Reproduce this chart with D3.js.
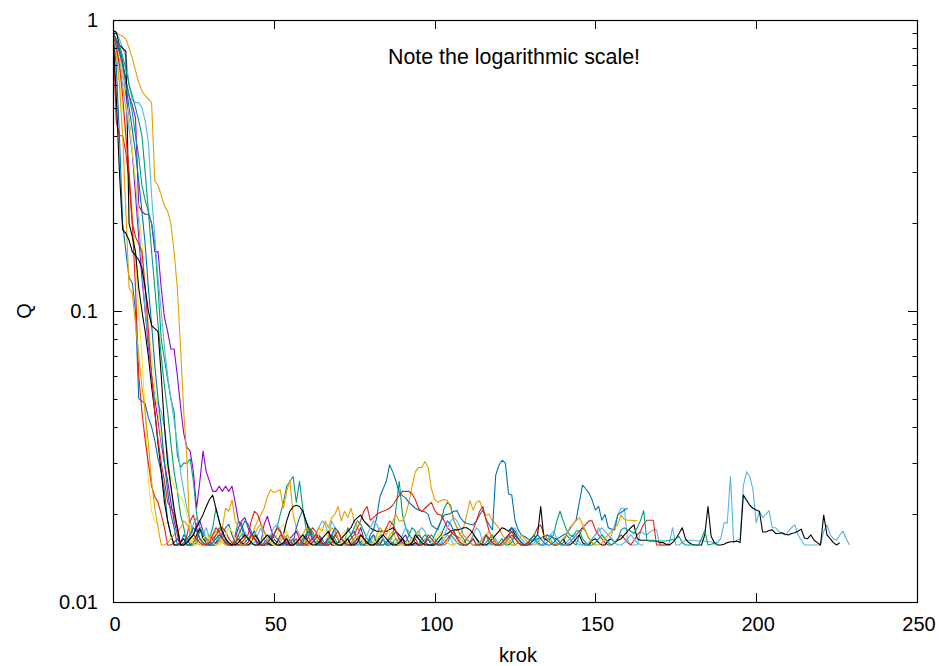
<!DOCTYPE html>
<html>
<head>
<meta charset="utf-8">
<script src="https://cdn.jsdelivr.net/npm/d3@7"></script>
<style>
  body { margin: 0; background: #fff; }
  svg { display: block; font-family: "Liberation Sans", Arial, sans-serif; }
</style>
</head>
<body>
<div id="chart"></div>
<script>
// Q per krok, one array per run (index = krok)
const purpleA = [.90,.86,.80,.72,.62,.55,.51,.46,.23,.22,
  .215,.215,.20,.16,.16,.12,.095,.085,.074,.074,
  .060,.047,.038,.034,.033,.028,.021,.026,.033,.028,
  .026,.024,.024,.025,.024,.025,.024,.025,.022,.019,
  .0185,.017,.0165,.016,.0157,.0157,.016,.0185,.0197,.018,
  .0165,.016,.0157,.0157,.017,.0165,.0157,.016,.0157,.0157,
  .0165,.018,.017,.0157,.0157,.016,.0157,.017,.0165,.0157,
  .0157,.0157,.016,.0165,.0157,.0157,.017,.018,.0165,.0157,
  .0157,.016,.0157,.0157,.0165,.0157,.0157,.016,.0157,.0157,
  .0165,.017,.016,.0157,.0157,.0157];

const greenA = [.88,.84,.78,.70,.62,.55,.48,.40,.34,.27,
  .24,.22,.20,.17,.12,.080,.068,.058,.050,.045,
  .032,.029,.030,.030,.031,.026,.020,.018,.017,.016,
  .0165,.018,.021,.019,.017,.0165,.016,.0157,.017,.019,
  .018,.0165,.0157,.016,.017,.0165,.0157,.0157,.016,.017,
  .017,.018,.020,.022,.025,.026,.027,.022,.026,.021,
  .018,.0165,.0157,.016,.017,.0165,.0157,.0157,.016,.017,
  .0165,.0157,.016,.018,.017,.0157,.0157,.016,.0165,.0157,
  .0165,.0157,.016,.017,.0165,.0157,.016,.017,.021,.026,
  .020,.018,.017,.0165,.016,.0157,.0165,.017,.0165,.016,
  .017,.018,.019,.021,.022,.0215,.019,.018,.017,.0165,
  .0157,.016,.017,.0165,.0157,.0157,.016,.0165,.017,.016,
  .0157,.0157,.016,.017,.0165,.0157,.016,.0157,.0157,.016,
  .0165,.017,.016,.0157,.0157,.016,.017,.0165,.016,.0157,
  .016,.017,.0165,.016,.0157,.017,.018,.0175,.0165,.016,
  .0157];

const lightblueA = [.92,.90,.86,.80,.75,.60,.53,.52,.52,.50,
  .45,.38,.25,.18,.13,.10,.075,.060,.050,.042,
  .035,.028,.024,.021,.019,.017,.0165,.016,.017,.018,
  .0165,.0157,.016,.017,.0165,.0157,.0157,.016,.0157,.0165,
  .017,.0165,.0157,.0157,.016,.017,.018,.0165,.0157,.0157,
  .016,.0157,.0165,.017,.016,.0157,.0157,.0157,.016,.0165,
  .0157,.0157,.016,.017,.018,.019,.0185,.017,.019,.018,
  .0165,.0157,.016,.0157,.0157,.0165,.017,.016,.0157,.0157,
  .016,.017,.0165,.0157,.0157,.016,.0165,.0157,.0157,.016,
  .017,.018,.0175,.016,.0157,.0157,.016,.0165,.0157,.0157,
  .016,.0157,.0157,.0165,.017,.0165,.0157,.016,.0157,.0157,
  .0157,.016,.017,.018,.0175,.016,.0157,.0157,.016,.0165,
  .0157,.0157,.016,.0157,.0165,.017,.016,.0157,.0157,.0157,
  .016,.0165,.0157,.0157,.016,.017,.0165,.0157,.016,.0157,
  .0157,.016,.0165,.017,.016,.0157,.0157,.016,.0157,.0165,
  .017,.018,.017,.0165,.016,.017,.0185,.0199,.021,.021,
  .0163,.0157,.0157,.0157,.0174,.0172,.0170,.0174,.0177,.0177,
  .0157,.0157,.0157,.0160,.018,.0157,.0157,.0160,.0163,.0163,
  .0163,.0163,.0162,.0162,.0162,.0161,.0161,.0160,.0160,.0165,
  .0187,.0187,.027,.016,.0163,.0165,.025,.028,.027,.0243,
  .0187,.0205,.0195,.020,.0206,.018,.018,.0175,.0172,.017,
  .0175,.018,.0184,.017,.0163,.0157,.0157,.0157,.0157,.0157,
  .0157,.0175,.0184,.0170,.0165,.0163,.0170,.0175,.0165,.0157];

const orangeA = [.90,.90,.89,.88,.86,.80,.74,.67,.61,.57,
  .55,.535,.52,.28,.27,.25,.23,.22,.20,.16,
  .12,.075,.045,.031,.0157,.0157,.016,.0165,.0157,.016,
  .017,.0165,.0157,.016,.018,.021,.0205,.0224,.019,.018,
  .017,.0165,.0157,.016,.018,.019,.020,.021,.023,.0243,
  .0238,.024,.0243,.021,.024,.0262,.020,.018,.017,.0165,
  .016,.0157,.0165,.017,.018,.0175,.019,.018,.0195,.020,
  .0213,.019,.0205,.0195,.021,.019,.018,.017,.0165,.016,
  .0157,.016,.017,.018,.0175,.017,.018,.019,.020,.019,
  .019,.020,.022,.025,.028,.029,.029,.0304,.029,.0245,
  .0225,.022,.0223,.0225,.0223,.021,.019,.018,.017,.018,
  .020,.0223,.0207,.022,.0223,.0205,.0199,.020,.0190,.0185,
  .018,.017,.0165,.016,.0157,.0157];

const yellowA = [.85,.75,.62,.50,.40,.30,.22,.15,.10,.070,
  .045,.026,.0205,.019,.0184,.0184,.0186,.0187,.0187,.0187,
  .018,.0157,.0157,.016,.0165,.0157,.0157,.016,.017,.0165,
  .0157,.0157,.016,.0157,.0165,.017,.018,.0175,.016,.0157,
  .0157,.0165,.0157,.016,.017,.0165,.0157,.0157,.016,.0157,
  .0165,.017,.018,.0185,.017,.016,.0157,.0157,.016,.0165,
  .0157,.0157,.0165,.017,.016,.0157,.0157,.016,.0157,.0157,
  .0165,.017,.0175,.0165,.0157,.0157,.016,.0157,.0165,.016,
  .0157];

const blueA = [.90,.70,.40,.20,.16,.13,.125,.10,.050,.049,
  .048,.043,.040,.036,.031,.028,.024,.019,.017,.0157,
  .0157,.016,.017,.0165,.0157,.0157,.016,.018,.017,.0165,
  .016,.0157,.0157,.0165,.017,.018,.0185,.017,.016,.0157,
  .0157,.016,.0165,.017,.0175,.0165,.016,.0157,.0157,.016,
  .017,.018,.0175,.0165,.0157,.0157,.016,.018,.0195,.0207,
  .019,.018,.017,.0165,.016,.0157,.0157,.0165,.017,.016,
  .0157,.0157,.016,.0165,.017,.0175,.0165,.016,.0157,.0157,
  .0170,.0177,.0195,.0230,.0245,.0260,.0296,.0280,.0260,.0237,
  .0232,.0228,.0220,.0215,.0210,.0207,.0205,.0204,.0200,.0184,
  .0180,.0177,.0190,.0199,.0200,.0202,.0205,.0206,.0195,.0189,
  .0186,.0185,.0184,.0190,.0199,.0207,.0193,.0184,.0177,.0273,
  .0295,.0307,.0300,.0235,.0233,.0191,.0177,.0170,.0168,.0165,
  .0163,.0163,.0165,.0166,.0168,.0170,.0168,.0166,.0165,.0167,
  .0170,.0172,.0178,.0185,.0191,.0220,.0252,.0245,.0237,.0224,
  .0207,.0213,.0191,.0200,.0180,.0178,.0177,.0200,.0203,.0207,
  .0210];

const redA = [.90,.45,.40,.40,.35,.28,.20,.12,.060,.045,
  .036,.030,.025,.023,.022,.020,.018,.0157,.0157,.016,
  .0165,.0157,.0157,.017,.019,.0199,.018,.0165,.016,.0157,
  .0157,.0165,.017,.0175,.018,.0175,.0165,.016,.0157,.0157,
  .016,.0165,.017,.019,.0205,.020,.0185,.0175,.0165,.0157,
  .0157,.016,.017,.0165,.0157,.0157,.016,.0165,.0157,.0157,
  .016,.017,.018,.0175,.0165,.0157,.0157,.016,.0165,.017,
  .0165,.0157,.0157,.016,.0165,.017,.018,.019,.0205,.0213,
  .0191,.0195,.020,.0203,.0205,.0207,.021,.0215,.0224,.0232,
  .0240,.0240,.0240,.0235,.0225,.021,.0205,.021,.0215,.022,
  .0207,.020,.0199,.019,.018,.0175,.017,.0168,.0165,.016,
  .0165,.017,.0177,.019,.0205,.0213,.0191,.0175,.0165,.016,
  .0157,.0157,.016,.0165,.017,.0165,.016,.0157,.0157,.016,
  .0165,.017,.018,.0184,.017,.0165,.016,.0157,.0157,.016,
  .0157,.0157,.016,.0165,.017,.0175,.018,.0185,.019,.019,
  .0177,.017,.0165,.016,.0157,.0157,.016,.0165,.017,.0165,
  .016,.0157,.0163,.0170,.0175,.0185,.0191,.0191,.0191,.0157,
  .0157,.0157,.0157,.0157];

const blackA = [.92,.91,.82,.80,.78,.20,.18,.16,.12,.10,
  .085,.07,.055,.045,.035,.028,.022,.019,.017,.0157,
  .0157,.016,.0165,.0157,.0157,.016,.017,.018,.0165,.016,
  .0157,.0157,.016,.0165,.017,.016,.0157,.0157,.016,.0165,
  .016,.0157,.0157,.016,.017,.0165,.0157,.0157,.016,.0157,
  .0157,.016,.0165,.017,.019,.0205,.0213,.0215,.0213,.0205,
  .019,.0175,.0165,.016,.0157,.0157,.016,.0165,.0157,.0157,
  .016,.0165,.017,.0175,.018,.019,.0195,.0199,.019,.0185,
  .018,.0177,.0175,.0175,.0175,.0175,.0177,.018,.0175,.017,
  .0165,.016,.0157,.0157,.016,.0157,.0157,.016,.0165,.0157,
  .0157,.016,.0165,.017,.0172,.0175,.0177,.0177,.0178,.018,
  .018,.0177,.0172,.0165,.016,.0157,.0157,.016,.0165,.017,
  .0175,.018,.0178,.0175,.018,.017,.0165,.016,.0157,.0157,
  .016,.0165,.017,.0213,.0165,.0163,.016,.0157,.0157,.016,
  .0165,.0157,.0157,.016,.0165,.017,.016,.0157,.0157,.0163,
  .0165,.016,.0157,.0157,.0163,.0165,.016,.0163,.0165,.017,
  .0175,.018,.0184,.0165,.0163,.0163,.0163,.0162,.0162,.0162,
  .016,.016,.0158,.0157,.016,.0165,.0172,.018,.0165,.016,
  .0158,.0157,.0157,.0157,.0170,.0213,.0168,.0160,.0157,.0157,
  .0158,.0160,.0161,.0161,.0162,.0160,.0233,.0224,.0215,.021,
  .0207,.0205,.0174,.0174,.0176,.0177,.0172,.0172,.0173,.0171,
  .0170,.0172,.0173,.0175,.0178,.0166,.0165,.0170,.0163,.0160,
  .0157,.0199,.0170,.0165,.0160,.0157,.0160];

const purpleB = [.90,.85,.75,.65,.55,.45,.35,.25,.18,.13,
  .10,.075,.060,.050,.042,.035,.030,.026,.022,.019,
  .017,.0157,.0157,.016,.0165,.017,.0185,.019,.0175,.0165,
  .016,.0157,.0157,.0165,.017,.016,.0157,.0157,.0165,.018,
  .019,.0195,.018,.017,.0165,.0157,.0157,.016,.0165,.017,
  .016,.0157,.0157,.016,.0157,.0165,.017,.0175,.0165,.016,
  .0157,.0157,.016,.0165,.017,.016,.0157,.0157,.016,.0157,
  .0157];

const greenB = [.90,.86,.82,.75,.68,.60,.55,.50,.45,.40,
  .30,.22,.16,.12,.090,.070,.055,.045,.035,.028,
  .024,.020,.018,.0157,.0157,.016,.0165,.0175,.017,.016,
  .0157,.016,.017,.018,.0175,.0165,.0157,.0157,.016,.0165,
  .0157,.0157,.016,.017,.0165,.016,.0157,.0157,.0165,.017,
  .016,.0157,.0157,.016,.0165,.0157,.0157,.016,.0157,.0165,
  .017,.018,.0175,.0165,.016,.0157,.0157,.016,.017,.0165,
  .0157,.0157,.016,.0165,.017,.018,.019,.0185,.0175,.0165,
  .016,.0157,.0157,.016,.0165,.0157,.0157,.016,.0165,.0157,
  .0157,.016,.017,.018,.0175,.0165,.0157,.016,.0165,.017,
  .0165,.016,.0157,.0157,.016,.017,.0165,.016,.0157,.0157,
  .0165,.016,.0157,.0157,.016,.0165,.017,.016,.0157,.0157,
  .016,.0165,.0157,.0157,.016,.017,.0165,.016,.0157,.0157,
  .0165,.017,.016,.0157,.0157,.016,.0165,.017,.019,.0205,
  .019,.0177,.017,.0168,.0175,.0176,.0165,.016,.0157,.0157,
  .016,.0165,.017,.0165,.016,.0157,.016,.0165,.0177,.018,
  .0177,.0175,.0172,.0180,.019,.0206,.0163,.0163,.0163,.0162,
  .0162,.0162,.0162,.0163,.0164,.0165,.0168,.0160,.0157,.0157,
  .0157,.0157,.0157,.0165,.0176,.0157,.0158,.0159,.0157];

const lightblueB = [.88,.80,.70,.60,.50,.42,.35,.28,.20,.14,
  .10,.080,.060,.050,.048,.045,.040,.032,.025,.020,
  .018,.0157,.0157,.016,.017,.0185,.0195,.018,.0175,.0165,
  .016,.0157,.0157,.0165,.017,.016,.0157,.0157,.016,.0165,
  .017,.0175,.0165,.016,.0157,.0157,.016,.0157,.0165,.017,
  .018,.0185,.0177,.0165,.016,.0157,.0157,.016,.0165,.0157,
  .0157,.016,.017,.0165,.0157,.0157,.016,.0165,.017,.0175,
  .0165,.016,.0157,.0157,.016,.0165,.0157,.0157,.016,.017,
  .018,.019,.0185,.0175,.0165,.016,.0157,.0157,.016,.0165,
  .0157,.0157,.016,.0165,.017,.0175,.018,.0175,.0165,.016,
  .0157,.0157,.016,.017,.018,.019,.0195,.019,.018,.017,
  .0165,.016,.0157,.0157,.016,.0165,.017,.0165,.016,.0157,
  .0157,.016,.0165,.017,.0175,.018,.017,.0165,.016,.0157,
  .0157,.016,.0165,.0157,.0157,.016,.017,.0175,.0165,.016,
  .0157,.0157,.016,.0165,.017,.016,.0157,.0157,.016,.0165,
  .017,.0175,.018,.0175,.017,.0165,.016,.0157,.0157,.016,
  .0165,.017,.0165,.016,.0157,.0157];

const orangeB = [.90,.80,.60,.40,.22,.12,.115,.09,.07,.055,
  .045,.035,.026,.021,.018,.0157,.0157,.016,.0165,.017,
  .0175,.018,.019,.0185,.0175,.0165,.016,.0157,.0157,.016,
  .0165,.017,.0175,.0165,.016,.0157,.0157,.016,.0165,.017,
  .0157,.0157,.016,.0165,.017,.018,.0185,.0175,.0165,.016,
  .0157,.0157,.016,.017,.0165,.0157,.0157,.016,.0165,.017,
  .018,.0175,.0165,.016,.0157,.0157,.016,.017,.018,.0175,
  .0165,.016,.0157,.0157,.016,.0165,.017,.0165,.016,.0157,
  .0157,.016,.0165,.0157,.0157,.016,.017,.0175,.0165,.016,
  .0157,.0157,.016,.0165,.017,.0175,.0165,.016,.0157,.0157,
  .016,.0165,.017,.0165,.016,.0157,.0157,.016,.0165,.017,
  .0165,.016,.0157,.0157,.016,.0165,.017,.0175,.0165,.016,
  .0157,.0157,.016,.0165,.0157,.0157,.016,.017,.0165,.016,
  .0157,.0157,.016,.0165,.017,.0165,.016,.0157,.0157,.016,
  .0165,.017,.018,.0185,.019,.0195,.0185,.0175,.0165,.016,
  .0157,.0157,.016,.0165,.017,.0175,.018,.0185,.0199,.0192,
  .0191,.0191,.0190,.0191];

const yellowB = [.88,.82,.75,.65,.52,.45,.36,.28,.22,.17,
  .12,.09,.07,.055,.045,.036,.032,.028,.027,.025,
  .024,.023,.022,.020,.018,.0157,.0157,.016,.0165,.017,
  .0165,.016,.0157,.0157,.016,.017,.018,.0175,.0165,.016,
  .0157,.0157,.016,.0165,.0157,.0157,.016,.017,.0165,.016,
  .0157,.0157,.0165,.017,.0175,.0165,.016,.0157,.0157,.016,
  .0165,.0157,.0157,.016,.017,.018,.0175,.0165,.016,.0157,
  .0157,.016,.0165,.0157,.0157,.016,.017,.0165,.016,.0157,
  .0157,.016,.0165,.017,.0175,.018,.0175,.0165,.016,.0157,
  .0157,.016,.0157,.0165,.017,.0165,.016,.0157,.0157,.016,
  .0165,.017,.0175,.0165,.016,.0157,.0157,.016,.0165,.016,
  .0157];

const blueB = [.90,.85,.78,.70,.60,.50,.42,.35,.28,.22,
  .17,.12,.090,.065,.050,.040,.030,.024,.020,.018,
  .0157,.0157,.016,.0165,.017,.018,.0175,.0165,.016,.0157,
  .0157,.016,.0165,.017,.0165,.016,.0157,.0157,.016,.017,
  .018,.019,.0185,.0175,.0165,.016,.0157,.0157,.016,.0165,
  .017,.0165,.016,.0157,.0157,.016,.0165,.0157,.0157,.016,
  .017,.0175,.0165,.016,.0157,.0157,.016,.0165,.017,.018,
  .0175,.0165,.016,.0157,.0157,.016,.0165,.0157,.0157,.016,
  .0165,.017,.016,.0157,.0157,.016,.0165,.017,.0175,.0165,
  .016,.0157,.0157,.016,.0165,.017,.0165,.016,.0157,.0157,
  .016,.0165,.017,.018,.019,.0185,.0175,.0165,.016,.0157,
  .0157,.016,.0165,.0157,.0157,.016,.017,.0165,.016,.0157,
  .0157,.016,.0165,.017,.018,.0175,.0165,.016,.0157,.0157,
  .016,.0165,.017,.0165,.016,.0157,.0157,.016,.0165,.016,
  .0157];

const redB = [.88,.82,.70,.55,.40,.30,.20,.18,.17,.16,
  .12,.085,.060,.045,.036,.030,.026,.022,.021,.020,
  .018,.0157,.0157,.016,.0165,.017,.0165,.016,.0157,.0157,
  .016,.017,.018,.0175,.0165,.016,.0157,.0157,.016,.0165,
  .0157,.0157,.016,.017,.0165,.016,.0157,.0157,.016,.0165,
  .017,.018,.0175,.0165,.016,.0157,.0157,.016,.0165,.0157,
  .0157,.016,.0165,.017,.0165,.016,.0157,.0157,.016,.017,
  .0175,.0165,.016,.0157,.0157,.016,.0165,.017,.0165,.016,
  .0157,.0157,.016,.0165,.017,.018,.019,.0185,.0175,.0165,
  .016,.0157,.0157,.016,.0165,.0157,.0157,.016,.017,.0165,
  .016,.0157,.0157,.016,.0165,.017,.0175,.0165,.016,.0157,
  .0157,.016,.0165,.0157,.0157,.016,.017,.0165,.016,.0157,
  .0157,.016,.0165,.017,.0175,.0165,.016,.0157,.0157,.016,
  .0157];

const blackB = [.90,.55,.30,.19,.185,.175,.16,.155,.15,.14,
  .12,.10,.089,.087,.085,.060,.040,.030,.025,.021,
  .018,.0157,.0157,.016,.0165,.017,.018,.019,.020,.0213,
  .0225,.0233,.021,.019,.0175,.0165,.016,.0157,.0157,.016,
  .0165,.017,.0165,.016,.0157,.0157,.016,.0165,.017,.0165,
  .016,.0157,.0157,.016,.0165,.0157,.0157,.016,.0165,.017,
  .0165,.016,.0157,.0157,.016,.0165,.017,.0175,.0165,.016,
  .0157,.0157,.016,.0165,.0157,.0157,.016,.017,.0165,.016,
  .0157,.0157,.016,.0165,.017,.0165,.016,.0157,.0157,.016,
  .0165,.0157,.0157,.016,.017,.0165,.016,.0157,.0157,.0157,
  .0157];

// plotting order = gnuplot linetype order
const runs = [purpleA, greenA, lightblueA, orangeA, yellowA, blueA, redA, blackA,
              purpleB, greenB, lightblueB, orangeB, yellowB, blueB, redB, blackB];
const palette = ["#9400d3", "#009e73", "#56b4e9", "#e69f00", "#f0e442", "#0072b2", "#e51e10", "#000000"];

const xTicks = [0, 50, 100, 150, 200, 250];
const yTicks = [0.01, 0.1, 1];

const width = 941, height = 666;
const margin = { top: 20, right: 24, bottom: 64, left: 113 };

const svg = d3.select("#chart").append("svg")
  .attr("width", width)
  .attr("height", height);

const x = d3.scaleLinear().domain([0, 250]).range([margin.left, width - margin.right]);
const y = d3.scaleLog().domain([0.01, 1]).range([height - margin.bottom, margin.top]);

const [x0, x1] = x.range();
const [y0, y1] = y.range();

svg.append("clipPath").attr("id", "plot")
  .append("rect")
  .attr("x", x0).attr("y", y1)
  .attr("width", x1 - x0).attr("height", y0 - y1);

const line = d3.line()
  .x((d, i) => x(i))
  .y(d => y(d));

svg.append("g")
  .attr("clip-path", "url(#plot)")
  .selectAll("path")
  .data(runs)
  .join("path")
  .attr("fill", "none")
  .attr("stroke", (d, i) => palette[i % palette.length])
  .attr("stroke-width", 1.1)
  .attr("stroke-linejoin", "round")
  .attr("d", line);

// ticks, mirrored on all sides (gnuplot style, pointing inwards)
const tickG = svg.append("g").attr("stroke", "#000").attr("stroke-width", 1);
const logTicks = y.ticks();
logTicks.forEach(v => {
  const major = Math.abs(Math.log10(v) - Math.round(Math.log10(v))) < 1e-6;
  const len = major ? 9 : 4.5;
  const yy = Math.round(y(v)) + 0.5;
  tickG.append("line").attr("x1", x0).attr("x2", x0 + len).attr("y1", yy).attr("y2", yy);
  tickG.append("line").attr("x1", x1).attr("x2", x1 - len).attr("y1", yy).attr("y2", yy);
});
xTicks.forEach(v => {
  const xx = Math.round(x(v)) + 0.5;
  tickG.append("line").attr("x1", xx).attr("x2", xx).attr("y1", y0).attr("y2", y0 - 9);
  tickG.append("line").attr("x1", xx).attr("x2", xx).attr("y1", y1).attr("y2", y1 + 9);
});

svg.append("rect")
  .attr("x", x0 + 0.5).attr("y", y1 + 0.5)
  .attr("width", x1 - x0).attr("height", y0 - y1)
  .attr("fill", "none").attr("stroke", "#000").attr("stroke-width", 1.2);

const fontSize = 20;
svg.append("g").selectAll("text")
  .data(yTicks)
  .join("text")
  .attr("x", x0 - 15)
  .attr("y", d => y(d))
  .attr("dy", "0.36em")
  .attr("text-anchor", "end")
  .attr("font-size", fontSize)
  .text(d => d3.format("~g")(d));

svg.append("g").selectAll("text")
  .data(xTicks)
  .join("text")
  .attr("x", d => x(d) + 2)
  .attr("y", y0 + 29)
  .attr("text-anchor", "middle")
  .attr("font-size", fontSize)
  .text(d => d);

svg.append("text")
  .attr("x", (x0 + x1) / 2 + 3)
  .attr("y", 662)
  .attr("text-anchor", "middle")
  .attr("font-size", fontSize)
  .text("krok");

svg.append("text")
  .attr("transform", `translate(31, ${y(0.1)}) rotate(-90)`)
  .attr("text-anchor", "middle")
  .attr("font-size", fontSize)
  .text("Q");

svg.append("text")
  .attr("x", 514)
  .attr("y", 64)
  .attr("text-anchor", "middle")
  .attr("font-size", 21.4)
  .text("Note the logarithmic scale!");
</script>
</body>
</html>
